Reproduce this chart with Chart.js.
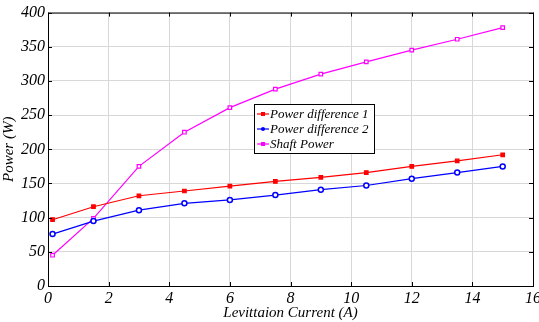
<!DOCTYPE html>
<html>
<head>
<meta charset="utf-8">
<script src="https://cdn.jsdelivr.net/npm/chart.js@4"></script>
<style>
  html, body { margin: 0; padding: 0; background: #fff; }
  #wrap { width: 539px; height: 322px; }
</style>
</head>
<body>
<div id="wrap"><canvas id="chart" width="539" height="322"></canvas></div>
<script>
const current = [0.15, 1.5, 3, 4.5, 6, 7.5, 9, 10.5, 12, 13.5, 15];
const powerDiff1 = [97, 116, 132, 139, 146, 153, 159, 166, 175, 183, 192];
const powerDiff2 = [76, 95, 111, 121, 126, 133, 141, 147, 157, 166, 175];
const shaftPower = [45, 99, 175, 225, 261, 288, 310, 328, 345, 361, 378];
const seriesNames = ['Power difference 1', 'Power difference 2', 'Shaft Power'];

const FONT = 'Liberation Serif';
const pts = ys => ys.map((y, i) => ({ x: current[i], y }));

// box around the plot + inward ticks + legend box inside the plot
const framePlugin = {
    id: 'frame',
    afterDraw(chart) {
        const { ctx, chartArea: a, scales } = chart;
        ctx.save();
        ctx.strokeStyle = '#000';
        ctx.lineWidth = 1;
        ctx.strokeRect(a.left + 0.5, a.top + 0.5, a.right - a.left, a.bottom - a.top);
        ctx.beginPath();
        scales.x.ticks.forEach(t => {
            const px = Math.round(scales.x.getPixelForValue(t.value)) + 0.5;
            ctx.moveTo(px, a.bottom); ctx.lineTo(px, a.bottom - 4);
            ctx.moveTo(px, a.top); ctx.lineTo(px, a.top + 4);
        });
        scales.y.ticks.forEach(t => {
            const py = Math.round(scales.y.getPixelForValue(t.value)) + 0.5;
            ctx.moveTo(a.left, py); ctx.lineTo(a.left + 4, py);
            ctx.moveTo(a.right, py); ctx.lineTo(a.right - 4, py);
        });
        ctx.stroke();

        // legend
        const lx = 254, ly = 104, lw = 120, lh = 49;
        ctx.fillStyle = '#fff';
        ctx.fillRect(lx, ly, lw, lh);
        ctx.strokeRect(lx + 0.5, ly + 0.5, lw, lh);
        ctx.font = 'italic 13px "' + FONT + '"';
        ctx.textBaseline = 'middle';
        chart.data.datasets.forEach((ds, i) => {
            const y = ly + 10 + i * 15;
            ctx.strokeStyle = ds.borderColor;
            ctx.lineWidth = 1.2;
            ctx.beginPath(); ctx.moveTo(lx + 3, y); ctx.lineTo(lx + 15, y); ctx.stroke();
            ctx.fillStyle = ds.borderColor;
            if (ds.pointStyle === 'circle') {
                ctx.beginPath(); ctx.arc(lx + 9, y, 2, 0, Math.PI * 2); ctx.fill();
            } else {
                ctx.fillRect(lx + 7, y - 2, 4, 4);
            }
            ctx.fillStyle = '#000';
            ctx.fillText(ds.label, lx + 16, y + 1);
        });
        ctx.restore();
    }
};

new Chart(document.getElementById('chart'), {
    type: 'line',
    data: {
        datasets: [{
            label: seriesNames[0],
            data: pts(powerDiff1),
            borderColor: '#ff0000',
            backgroundColor: '#ff0000',
            pointStyle: 'rect',
            pointRadius: 2.5,
            borderWidth: 1.2
        }, {
            label: seriesNames[1],
            data: pts(powerDiff2),
            borderColor: '#0000ff',
            backgroundColor: '#ffffff',
            pointStyle: 'circle',
            pointRadius: 2.5,
            pointBorderWidth: 1.5,
            borderWidth: 1.2
        }, {
            label: seriesNames[2],
            data: pts(shaftPower),
            borderColor: '#ff00ff',
            backgroundColor: '#ffffff',
            pointStyle: 'rect',
            pointRadius: 2.5,
            pointBorderWidth: 1.2,
            borderWidth: 1.2
        }]
    },
    options: {
        responsive: false,
        animation: false,
        layout: { padding: { top: 12, right: 0, left: 0, bottom: 0 } },
        plugins: { legend: { display: false }, tooltip: { enabled: false } },
        scales: {
            x: {
                type: 'linear',
                min: 0, max: 16,
                afterFit(scale) {
                    scale.height = 36;
                    scale.paddingLeft = 0;
                    scale.paddingRight = 6;
                },
                ticks: { stepSize: 2, color: '#000', padding: 5,
                    font: { family: FONT, style: 'italic', size: 16, lineHeight: 1 } },
                grid: { color: '#d8d8d8', drawTicks: false },
                border: { display: false },
                title: { display: true, text: 'Levittaion Current (A)', color: '#000',
                    padding: { top: 0, bottom: 1 },
                    font: { family: FONT, style: 'italic', size: 15, lineHeight: 1 } }
            },
            y: {
                min: 0, max: 400,
                afterFit(scale) { scale.width = 48; },
                ticks: { stepSize: 50, color: '#000', padding: 3,
                    font: { family: FONT, style: 'italic', size: 16 } },
                grid: { color: '#d8d8d8', drawTicks: false },
                border: { display: false },
                title: { display: true, text: 'Power (W)', color: '#000',
                    padding: { top: 0, bottom: 3 },
                    font: { family: FONT, style: 'italic', size: 15 } }
            }
        }
    },
    plugins: [framePlugin]
});
</script>
</body>
</html>
